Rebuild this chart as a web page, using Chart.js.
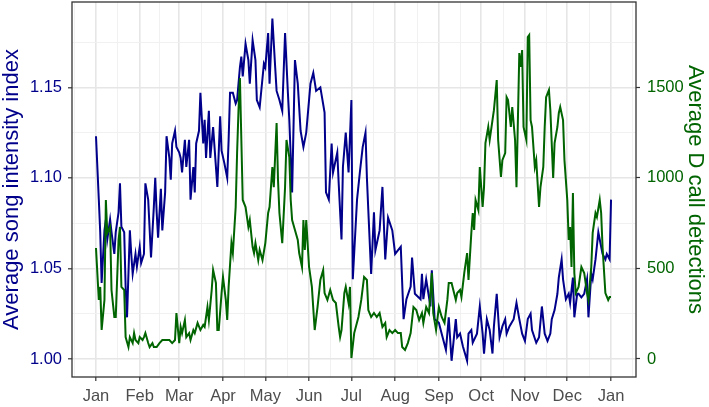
<!DOCTYPE html>
<html>
<head>
<meta charset="utf-8">
<script src="https://cdn.jsdelivr.net/npm/chart.js"></script>
<style>
    body { margin: 0; background: #ffffff; }
    canvas { display: block; }
</style>
</head>
<body>
<canvas id="chart" width="709" height="407"></canvas>
<script>
/* ============================================
   DATA (day of year)
   ============================================ */
const monthStarts = [0, 31, 59, 90, 120, 151, 181, 212, 243, 273, 304, 334, 365];
const monthLabels = ['Jan', 'Feb', 'Mar', 'Apr', 'May', 'Jun', 'Jul', 'Aug', 'Sep', 'Oct', 'Nov', 'Dec', 'Jan'];
const songTicks = [1.00, 1.05, 1.10, 1.15];
const callTicks = [0, 500, 1000, 1500];

// Average song intensity index (left axis)
const songDays = [0, 2, 3, 4, 6, 7, 8, 10, 11, 13, 14, 16, 17, 18, 20, 21, 22, 24, 25, 26, 28, 29, 31, 32, 34, 35, 37, 39, 41, 42, 43, 44, 46, 47, 49, 50, 52, 53, 54, 56, 57, 59, 60, 61, 63, 64, 66, 67, 69, 70, 71, 73, 74, 76, 77, 78, 80, 81, 83, 86, 88, 89, 91, 93, 94, 95, 97, 99, 100, 102, 103, 104, 106, 108, 109, 111, 113, 114, 116, 119, 120, 122, 123, 125, 127, 128, 130, 132, 134, 136, 137, 139, 141, 143, 145, 147, 149, 152, 154, 156, 159, 162, 163, 165, 167, 168, 171, 172, 174, 175, 177, 179, 181, 182, 185, 187, 189, 191, 192, 193, 195, 197, 198, 201, 203, 205, 207, 210, 212, 216, 218, 220, 223, 224, 226, 230, 231, 232, 234, 237, 238, 240, 243, 245, 248, 250, 252, 255, 256, 258, 260, 263, 264, 266, 267, 270, 272, 274, 275, 277, 279, 281, 282, 284, 286, 288, 290, 291, 293, 296, 298, 300, 302, 304, 306, 308, 309, 312, 314, 316, 318, 320, 322, 323, 325, 327, 328, 330, 331, 333, 335, 336, 338, 339, 341, 342, 344, 346, 348, 349, 351, 352, 354, 356, 357, 359, 361, 362, 364, 365];
const songIndex = [1.123, 1.088, 1.070, 1.042, 1.071, 1.077, 1.066, 1.077, 1.070, 1.058, 1.070, 1.081, 1.097, 1.073, 1.070, 1.040, 1.023, 1.071, 1.058, 1.047, 1.058, 1.051, 1.062, 1.053, 1.058, 1.097, 1.088, 1.056, 1.084, 1.100, 1.081, 1.067, 1.094, 1.071, 1.092, 1.123, 1.111, 1.099, 1.119, 1.126, 1.117, 1.114, 1.111, 1.103, 1.121, 1.106, 1.121, 1.088, 1.106, 1.092, 1.119, 1.126, 1.147, 1.119, 1.132, 1.111, 1.137, 1.111, 1.128, 1.095, 1.134, 1.115, 1.108, 1.100, 1.121, 1.147, 1.147, 1.141, 1.143, 1.161, 1.167, 1.156, 1.174, 1.165, 1.152, 1.176, 1.165, 1.143, 1.139, 1.163, 1.161, 1.180, 1.152, 1.188, 1.161, 1.148, 1.143, 1.137, 1.180, 1.147, 1.132, 1.092, 1.165, 1.152, 1.126, 1.117, 1.125, 1.152, 1.158, 1.148, 1.150, 1.136, 1.092, 1.088, 1.119, 1.103, 1.114, 1.097, 1.066, 1.106, 1.125, 1.103, 1.143, 1.044, 1.088, 1.103, 1.117, 1.125, 1.100, 1.082, 1.047, 1.081, 1.060, 1.071, 1.095, 1.055, 1.078, 1.071, 1.058, 1.062, 1.022, 1.033, 1.040, 1.056, 1.036, 1.033, 1.047, 1.033, 1.044, 1.029, 1.049, 1.022, 1.020, 1.014, 1.005, 1.023, 0.999, 1.022, 1.012, 1.014, 1.007, 0.999, 1.014, 1.016, 1.009, 1.014, 1.029, 1.014, 1.003, 1.022, 1.016, 1.003, 1.018, 1.036, 1.012, 1.018, 1.022, 1.014, 1.018, 1.022, 1.031, 1.022, 1.014, 1.010, 1.022, 1.025, 1.016, 1.009, 1.012, 1.029, 1.014, 1.010, 1.014, 1.022, 1.027, 1.036, 1.045, 1.055, 1.044, 1.033, 1.036, 1.031, 1.045, 1.023, 1.036, 1.036, 1.034, 1.036, 1.044, 1.023, 1.047, 1.044, 1.055, 1.070, 1.066, 1.058, 1.055, 1.058, 1.055, 1.088];

// Average D call detections (right axis)
const callDays = [0, 2, 3, 4, 6, 7, 8, 10, 11, 13, 14, 16, 17, 18, 20, 21, 23, 24, 26, 27, 28, 30, 31, 33, 34, 35, 37, 38, 40, 41, 43, 45, 47, 49, 50, 52, 54, 56, 57, 59, 60, 61, 63, 64, 66, 67, 69, 70, 72, 74, 76, 77, 79, 80, 82, 83, 85, 86, 87, 89, 90, 92, 93, 94, 96, 97, 99, 100, 101, 102, 104, 106, 108, 109, 111, 112, 113, 115, 116, 118, 120, 122, 123, 125, 126, 128, 129, 130, 132, 134, 135, 137, 138, 139, 141, 143, 144, 146, 147, 148, 149, 151, 153, 155, 157, 159, 161, 162, 164, 166, 168, 170, 172, 173, 174, 176, 177, 179, 180, 181, 183, 186, 188, 190, 192, 193, 195, 197, 199, 201, 203, 205, 206, 208, 210, 212, 214, 216, 217, 219, 221, 223, 225, 227, 229, 231, 232, 234, 236, 238, 239, 241, 243, 245, 247, 249, 250, 252, 255, 256, 258, 259, 261, 263, 264, 266, 267, 268, 269, 271, 272, 274, 275, 276, 278, 279, 281, 282, 284, 285, 287, 288, 290, 291, 292, 294, 295, 297, 298, 300, 301, 302, 303, 305, 306, 307, 308, 309, 311, 312, 314, 315, 317, 318, 319, 321, 322, 324, 325, 327, 328, 329, 331, 332, 334, 335, 336, 337, 338, 339, 340, 342, 344, 346, 348, 349, 351, 352, 354, 355, 357, 358, 359, 361, 363, 364, 365];
const callCounts = [613, 326, 398, 160, 326, 878, 696, 729, 381, 232, 232, 657, 729, 398, 381, 121, 66, 121, 88, 143, 105, 88, 121, 105, 121, 143, 88, 66, 88, 66, 66, 88, 105, 105, 105, 105, 88, 105, 254, 88, 177, 143, 215, 121, 143, 105, 160, 143, 199, 160, 188, 177, 287, 215, 381, 491, 420, 160, 160, 364, 453, 326, 215, 398, 640, 585, 839, 1137, 1374, 1551, 878, 839, 729, 767, 618, 585, 640, 546, 602, 546, 640, 806, 839, 1060, 949, 1303, 988, 806, 640, 949, 1209, 1115, 878, 767, 712, 657, 585, 508, 767, 602, 767, 508, 398, 160, 287, 436, 491, 364, 326, 381, 326, 309, 177, 121, 160, 364, 398, 309, 398, 5, 143, 232, 326, 453, 436, 270, 232, 254, 232, 254, 177, 199, 121, 160, 143, 160, 143, 143, 66, 50, 88, 143, 287, 270, 215, 254, 199, 287, 254, 475, 254, 160, 287, 232, 199, 326, 420, 420, 326, 364, 381, 342, 475, 585, 436, 696, 806, 712, 878, 822, 1060, 839, 949, 1192, 1281, 1209, 1319, 1374, 1540, 1209, 1005, 1098, 1137, 1446, 1430, 1281, 1391, 1209, 949, 1689, 1612, 1706, 1281, 1209, 1777, 1788, 1319, 1281, 1060, 1098, 839, 949, 1060, 1281, 1446, 1485, 1374, 1000, 1192, 1281, 1358, 1391, 1319, 1098, 878, 657, 729, 508, 916, 475, 364, 398, 508, 475, 364, 326, 508, 696, 806, 784, 878, 806, 618, 364, 326, 342, 342];

/* ============================================
   AXIS SETUP
   ============================================ */
const SONG_COLOR = '#00008B';
const CALL_COLOR = '#006400';
const FONT = '"Liberation Sans", Arial, sans-serif';

const xMin = -17, xMax = 382.7;
const yMin = 0.99006, yMax = 1.1971;
// secondary axis is a straight rescale of the primary one
const y2Min = (yMin - 1) * 10000, y2Max = (yMax - 1) * 10000;

// minor breaks sit halfway between majors (ggplot style)
const xMinor = [-15.5];
for (let i = 0; i < monthStarts.length - 1; i++) {
    xMinor.push((monthStarts[i] + monthStarts[i + 1]) / 2);
}
xMinor.push(380.5);
const yMinor = [1.025, 1.075, 1.125, 1.175];

const xMajorSet = new Set(monthStarts);
const isYMajor = v => Math.round(v * 1000) % 50 === 0;

const gridColor = major => major ? '#e6e6e6' : '#efefef';
const gridWidth = major => major ? 1.6 : 0.9;
const tickColor = major => major ? '#333333' : 'rgba(0,0,0,0)';

// draw the panel border like theme_bw
const frame = {
    id: 'frame',
    afterDraw(chart) {
        const { ctx, chartArea: a } = chart;
        ctx.save();
        ctx.strokeStyle = '#333333';
        ctx.lineWidth = 1.3;
        ctx.strokeRect(a.left, a.top, a.right - a.left, a.bottom - a.top);
        ctx.restore();
    }
};

new Chart(document.getElementById('chart'), {
    type: 'line',
    data: {
        datasets: [
            {
                label: 'Average D call detections',
                data: callDays.map((d, i) => ({ x: d, y: callCounts[i] })),
                yAxisID: 'y2',
                borderColor: CALL_COLOR,
                borderWidth: 2,
                pointRadius: 0,
                tension: 0
            },
            {
                label: 'Average song intensity index',
                data: songDays.map((d, i) => ({ x: d, y: songIndex[i] })),
                yAxisID: 'y',
                borderColor: SONG_COLOR,
                borderWidth: 2,
                pointRadius: 0,
                tension: 0
            }
        ]
    },
    options: {
        responsive: false,
        devicePixelRatio: 1,
        animation: false,
        layout: { padding: { top: 2, left: 0, right: 0, bottom: 0 } },
        plugins: {
            legend: { display: false },
            tooltip: { enabled: false }
        },
        scales: {
            x: {
                type: 'linear',
                min: xMin,
                max: xMax,
                afterBuildTicks: scale => {
                    scale.ticks = monthStarts.concat(xMinor).sort((a, b) => a - b).map(v => ({ value: v }));
                },
                afterFit: scale => {
                    scale.height = 30;
                    scale.paddingLeft = 0;
                    scale.paddingRight = 0;
                },
                ticks: {
                    autoSkip: false,
                    maxRotation: 0,
                    padding: 6,
                    color: '#4d4d4d',
                    font: { family: FONT, size: 16.5 },
                    callback: value => {
                        const i = monthStarts.indexOf(value);
                        return i >= 0 ? monthLabels[i] : '';
                    }
                },
                grid: {
                    color: c => gridColor(c.tick && xMajorSet.has(c.tick.value)),
                    lineWidth: c => gridWidth(c.tick && xMajorSet.has(c.tick.value)),
                    tickColor: c => tickColor(c.tick && xMajorSet.has(c.tick.value)),
                    tickWidth: 1.2,
                    tickLength: 4
                },
                border: { display: false }
            },
            y: {
                position: 'left',
                min: yMin,
                max: yMax,
                afterBuildTicks: scale => {
                    scale.ticks = songTicks.concat(yMinor).sort((a, b) => a - b).map(v => ({ value: v }));
                },
                afterFit: scale => {
                    scale.width = 72;
                    scale.paddingTop = 0;
                    scale.paddingBottom = 0;
                },
                ticks: {
                    autoSkip: false,
                    padding: 6,
                    color: SONG_COLOR,
                    font: { family: FONT, size: 16.5 },
                    callback: value => isYMajor(value) ? value.toFixed(2) : ''
                },
                grid: {
                    color: c => gridColor(c.tick && isYMajor(c.tick.value)),
                    lineWidth: c => gridWidth(c.tick && isYMajor(c.tick.value)),
                    tickColor: c => tickColor(c.tick && isYMajor(c.tick.value)),
                    tickWidth: 1.2,
                    tickLength: 4
                },
                border: { display: false },
                title: {
                    display: true,
                    text: 'Average song intensity index',
                    color: SONG_COLOR,
                    font: { family: FONT, size: 22, lineHeight: 1 },
                    padding: { top: 1, bottom: 0 }
                }
            },
            y2: {
                position: 'right',
                min: y2Min,
                max: y2Max,
                afterBuildTicks: scale => {
                    scale.ticks = callTicks.map(v => ({ value: v }));
                },
                afterFit: scale => {
                    scale.width = 73;
                    scale.paddingTop = 0;
                    scale.paddingBottom = 0;
                },
                ticks: {
                    autoSkip: false,
                    padding: 7,
                    color: CALL_COLOR,
                    font: { family: FONT, size: 16.5 },
                    callback: value => String(value)
                },
                grid: {
                    drawOnChartArea: false,
                    tickColor: '#333333',
                    tickWidth: 1.2,
                    tickLength: 4
                },
                border: { display: false },
                title: {
                    display: true,
                    text: 'Average D call detections',
                    color: CALL_COLOR,
                    font: { family: FONT, size: 22, lineHeight: 1 },
                    padding: { top: 3, bottom: 0 }
                }
            }
        }
    },
    plugins: [frame]
});
</script>
</body>
</html>
